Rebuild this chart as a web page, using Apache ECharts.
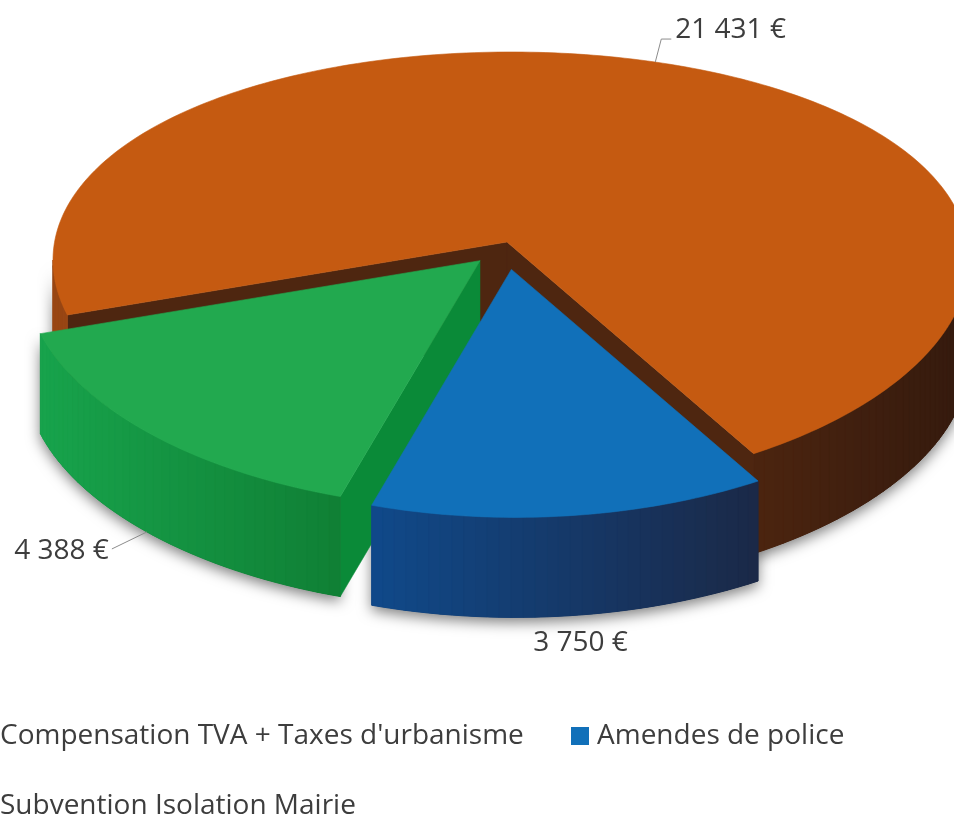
<!DOCTYPE html>
<html>
<head>
<meta charset="utf-8">
<title>Recettes</title>
<script src="https://cdn.jsdelivr.net/npm/echarts@6/dist/echarts.min.js"></script>
<style>
  html, body { margin: 0; padding: 0; background: #fff; }
  #chart { width: 954px; height: 821px; }
</style>
</head>
<body>
<div id="chart"></div>
<script>
// data
const categories = ["Compensation TVA + Taxes d'urbanisme", 'Amendes de police', 'Subvention Isolation Mairie'];
const amounts = [21431, 3750, 4388];
const exploded = [0, 0.1, 0.1];

// look
const topColors = ['#C55A11', '#1170B9', '#22A94F'];
const wallK0 = [[52, 26, 14], [33, 23, 34], [0, 56, 7]];
const wallK1 = [[153, 71, 20], [7, 99, 192], [24, 165, 77]];
const cutColors = ['#4E2610', '#17406F', '#0A8A38'];
const FONT = '"Open Sans", sans-serif';
const TEXT = '#3d3d3d';

// fake 3d geometry (ellipse, pie apex, depth); explode is stretched a bit in y for perspective
const geo = { ax: 507, ay: 242, cx: 511, cy: 260, rx: 458, ryBack: 208, ryFront: 230, depth: 100,
  start: 160, warp: 6, explodeX: 0.8, explodeY: 1.2 };

// label placement: which edge, leader bends, text offset from last point
const labelEdge = ['top', 'bottom', 'bottom'];
const leaderBends = [[[6, -23], [16, -23]], [], [[-35, 17]]];
const labelShift = [[4, -9, 'left'], [10, 27, 'center'], [-3, 2, 'right']];

const rad = d => d * Math.PI / 180;
const total = amounts.reduce((a, b) => a + b, 0);
const fmt = v => String(v).replace(/\B(?=(\d{3})+(?!\d))/g, ' ') + ' €';

function warpT(th) { return th - rad(geo.warp) * Math.cos(th); }
function rim(t, off, dz) {
  const s = Math.sin(t);
  const ry = (geo.ryBack + geo.ryFront) / 2 + (geo.ryFront - geo.ryBack) / 2 * s;
  return [geo.cx + off[0] + geo.rx * Math.cos(t), geo.cy + off[1] + ry * s + dz];
}
function frontRanges(a, b) {
  const out = [];
  const P = 2 * Math.PI;
  for (let k = Math.floor(a / P) - 1; k <= Math.ceil(b / P); k++) {
    const lo = Math.max(a, P * k), hi = Math.min(b, P * k + Math.PI);
    if (hi > lo) out.push([lo, hi]);
  }
  return out;
}
function mix(c0, c1, k) {
  const c = c0.map((v, j) => Math.round(Math.max(0, Math.min(255, v + (c1[j] - v) * k))));
  return 'rgb(' + c.join(',') + ')';
}

function buildSlice(i, value) {
  let cum = 0;
  for (let j = 0; j < i; j++) cum += amounts[j];
  const th0 = rad(geo.start) + 2 * Math.PI * cum / total;
  const th1 = th0 + 2 * Math.PI * value / total;
  const t0 = warpT(th0), t1 = warpT(th1), tm = warpT((th0 + th1) / 2);
  const e = exploded[i];
  const off = [e * geo.explodeX * geo.rx * Math.cos(tm), e * geo.explodeY * geo.ryFront * Math.sin(tm)];
  const apex = [geo.ax + off[0], geo.ay + off[1]];
  const D = geo.depth;
  const kids = [];

  // outer wall, front part only
  frontRanges(t0, t1).forEach(([lo, hi]) => {
    const n = Math.max(2, Math.ceil((hi - lo) / rad(1.5)));
    const outline = [];
    for (let s = 0; s <= n; s++) outline.push(rim(lo + (hi - lo) * s / n, off, 0));
    for (let s = n; s >= 0; s--) outline.push(rim(lo + (hi - lo) * s / n, off, D));
    kids.push({ type: 'polygon', shape: { points: outline }, z2: 1,
      style: { fill: mix(wallK0[i], wallK1[i], 0.3), shadowBlur: 14, shadowColor: 'rgba(0,0,0,0.5)', shadowOffsetY: 5 } });
    for (let s = 0; s < n; s++) {
      const a = lo + (hi - lo) * s / n, b = lo + (hi - lo) * (s + 1) / n;
      const p1 = rim(a, off, 0), p2 = rim(b, off, 0), p3 = rim(b, off, D), p4 = rim(a, off, D);
      const k = (1 - Math.cos((a + b) / 2)) / 2;
      const col = mix(wallK0[i], wallK1[i], k);
      kids.push({ type: 'polygon', shape: { points: [p1, p2, p3, p4] }, z2: 10 + (p1[1] + p3[1]) / 40,
        style: { fill: col, stroke: col, lineWidth: 1 } });
    }
  });

  // cut faces
  [[t0, Math.cos(t0) < 0], [t1, Math.cos(t1) > 0]].forEach(([t, show]) => {
    if (!show) return;
    const r = rim(t, off, 0);
    const pts = [apex, r, [r[0], r[1] + D], [apex[0], apex[1] + D]];
    const my = (apex[1] + r[1]) / 2 + D / 2;
    kids.push({ type: 'polygon', shape: { points: pts }, z2: 10 + my / 20,
      style: { fill: cutColors[i], stroke: cutColors[i], lineWidth: 0.5 } });
  });

  // top face
  const n = Math.max(2, Math.ceil((t1 - t0) / rad(1)));
  const topPts = [apex];
  for (let s = 0; s <= n; s++) topPts.push(rim(t0 + (t1 - t0) * s / n, off, 0));
  kids.push({ type: 'polygon', shape: { points: topPts }, z2: 100,
    style: { fill: topColors[i], stroke: topColors[i], lineWidth: 0.6 } });

  // data label with leader line
  const anchor = rim(tm, off, labelEdge[i] === 'bottom' ? D : 0);
  const line = [anchor];
  leaderBends[i].forEach(d => line.push([anchor[0] + d[0], anchor[1] + d[1]]));
  if (line.length > 1) {
    kids.push({ type: 'polyline', shape: { points: line }, z2: 200,
      style: { stroke: '#8c8c8c', lineWidth: 1, fill: null } });
  }
  const last = line[line.length - 1];
  const sh = labelShift[i];
  kids.push({ type: 'text', z2: 210,
    style: { text: fmt(value), x: last[0] + sh[0], y: last[1] + sh[1], align: sh[2], verticalAlign: 'middle',
      fill: TEXT, fontSize: 28, fontFamily: FONT } });

  return { type: 'group', children: kids };
}

// legend drawn as graphic (rows wrap, first markers cut off on the left)
const legendX = [0, 597, 0];
const legendY = [736, 736, 806];
const legend = [];
categories.forEach((name, i) => {
  legend.push({ type: 'rect', left: legendX[i] - 26, top: legendY[i] - 9, shape: { width: 18, height: 18 },
    style: { fill: topColors[i] } });
  legend.push({ type: 'text', x: legendX[i], y: legendY[i],
    style: { text: name, fill: TEXT, fontSize: 28, fontFamily: FONT, verticalAlign: 'middle', align: 'left' } });
});

const chart = echarts.init(document.getElementById('chart'));
chart.setOption({
  animation: false,
  backgroundColor: '#fff',
  graphic: legend,
  series: [{
    type: 'custom',
    coordinateSystem: 'none',
    silent: true,
    data: amounts.map((v, i) => ({ name: categories[i], value: v })),
    renderItem: (params, api) => buildSlice(params.dataIndex, api.value(0))
  }]
});
</script>
</body>
</html>
